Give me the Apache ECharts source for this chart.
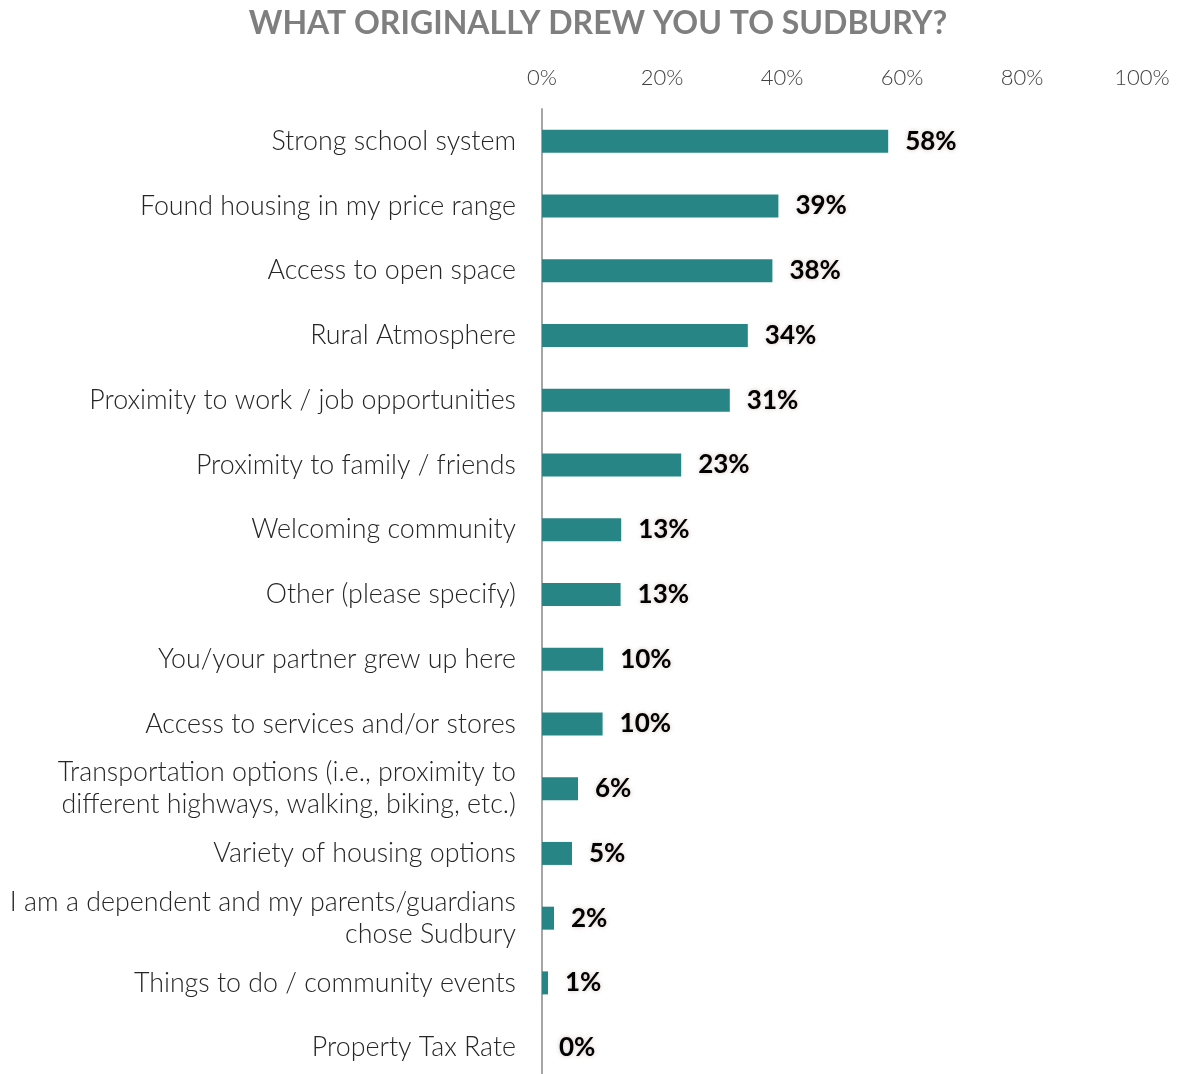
<!DOCTYPE html>
<html><head><meta charset="utf-8">
<script src="https://cdn.jsdelivr.net/npm/echarts@6/dist/echarts.min.js"></script>
<style>html,body{margin:0;padding:0;background:#fff;overflow:hidden}#c{width:1177px;height:1100px}</style>
</head><body><div id="c"></div>
<script>
const categories = [
  "Strong school system",
  "Found housing in my price range",
  "Access to open space",
  "Rural Atmosphere",
  "Proximity to work / job opportunities",
  "Proximity to family / friends",
  "Welcoming community",
  "Other (please specify)",
  "You/your partner grew up here",
  "Access to services and/or stores",
  "Transportation options (i.e., proximity to\ndifferent highways, walking, biking, etc.)",
  "Variety of housing options",
  "I am a dependent and my parents/guardians\nchose Sudbury",
  "Things to do / community events",
  "Property Tax Rate"
];
const values = [57.7, 39.4, 38.4, 34.3, 31.3, 23.2, 13.2, 13.1, 10.2, 10.1, 6.0, 5.0, 2.0, 1.0, 0];
const xTicks = [0, 20, 40, 60, 80, 100];

const chart = echarts.init(document.getElementById('c'));
chart.setOption({
  animation: false,
  title: {
    text: "WHAT ORIGINALLY DREW YOU TO SUDBURY?",
    left: 593, top: 3, textAlign: 'center',
    textStyle: {fontFamily: 'Lato', fontWeight: 'bold', fontSize: 32, color: '#7f7f7f'}
  },
  grid: {left: 542, right: 35, top: 109, height: 971},
  xAxis: {
    type: 'value', position: 'top', min: 0, max: 100, interval: 20,
    axisLine: {show: false}, axisTick: {show: false}, splitLine: {show: false},
    axisLabel: {formatter: v => xTicks.includes(v) ? v + '%' : '', fontFamily: 'Lato', fontWeight: 300, fontSize: 22, color: '#404040', margin: 20}
  },
  yAxis: {
    type: 'category', inverse: true, data: categories,
    axisLine: {show: true, lineStyle: {color: '#a6a6a6', width: 2}},
    axisTick: {show: false},
    axisLabel: {fontFamily: 'Lato', fontWeight: 300, fontSize: 26.8, color: '#262626', margin: 26, lineHeight: 32, align: 'right'}
  },
  series: [{
    type: 'bar', data: values, barWidth: 23,
    itemStyle: {color: '#288586'},
    label: {
      show: true, position: 'right', distance: 17,
      formatter: p => Math.round(p.value) + '%',
      fontFamily: 'Lato', fontWeight: 'bold', fontSize: 26, color: '#000',
      textShadowColor: 'rgba(200,180,170,0.8)', textShadowBlur: 4
    }
  }]
});
</script></body></html>
